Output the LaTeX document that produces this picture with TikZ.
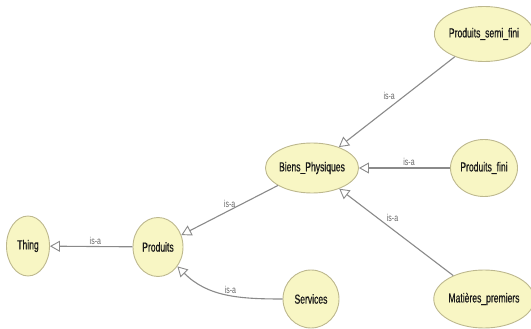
\documentclass[tikz,border=0pt]{standalone}
\usepackage{fontspec}
\usetikzlibrary{arrows.meta,shapes.geometric}
\newfontfamily\clsfont[FakeStretch=0.66,FakeBold=0.6]{Liberation Sans}
\newfontfamily\lblfont[FakeStretch=0.7]{Liberation Sans}
\definecolor{clsfill}{HTML}{F8F6C4}
\definecolor{clsline}{HTML}{BDB88E}
\definecolor{isaline}{HTML}{8A8A8A}
\tikzset{
  cls/.style={ellipse,draw=clsline,fill=clsfill,line width=0.9pt,inner sep=0pt,
    font=\clsfont\fontsize{13}{13}\selectfont,text=black!90},
  isa/.style={draw=isaline,line width=1.1pt,
    -{Triangle[open,fill=white,length=10pt,width=11pt,line width=0.9pt]}},
  isalbl/.style={font=\lblfont\fontsize{10}{10}\selectfont,text=black!60,inner sep=1.5pt},
}
\begin{document}
\begin{tikzpicture}[x=1pt,y=-1pt]
  \useasboundingbox (0,0) rectangle (531,329);
  \node[cls,minimum width=43pt,minimum height=60pt] (thing) at (28,246) {Thing};
  \node[cls,minimum width=50pt,minimum height=59pt] (prod) at (158,247) {Produits};
  \node[cls,minimum width=88pt,minimum height=50pt] (biens) at (312,168) {Biens\_Physiques};
  \node[cls,minimum width=92pt,minimum height=55pt] (semi) at (484,34) {Produits\_semi\_fini};
  \node[cls,minimum width=67pt,minimum height=57pt] (fini) at (484,168) {Produits\_fini};
  \node[cls,minimum width=56pt,minimum height=58pt] (serv) at (311,299) {Services};
  \node[cls,minimum width=93pt,minimum height=58pt] (mat) at (484,299) {Matières\_premiers};
  % is-a links
  \draw[isa] (prod) -- node[isalbl,above,pos=0.45] {is-a} (thing);
  \draw[isa] (biens) -- node[isalbl,above,pos=0.5,yshift=1pt] {is-a} (prod);
  \draw[isa] (serv.west) to[out=180,in=-45] node[isalbl,above,pos=0.45] {is-a} (prod);
  \draw[isa] (semi) -- node[isalbl,above left,pos=0.5] {is-a} (biens);
  \draw[isa] (fini) -- node[isalbl,above,pos=0.45] {is-a} (biens);
  \draw[isa] (mat) -- node[isalbl,above right,pos=0.6] {is-a} (biens);
\end{tikzpicture}
\end{document}
